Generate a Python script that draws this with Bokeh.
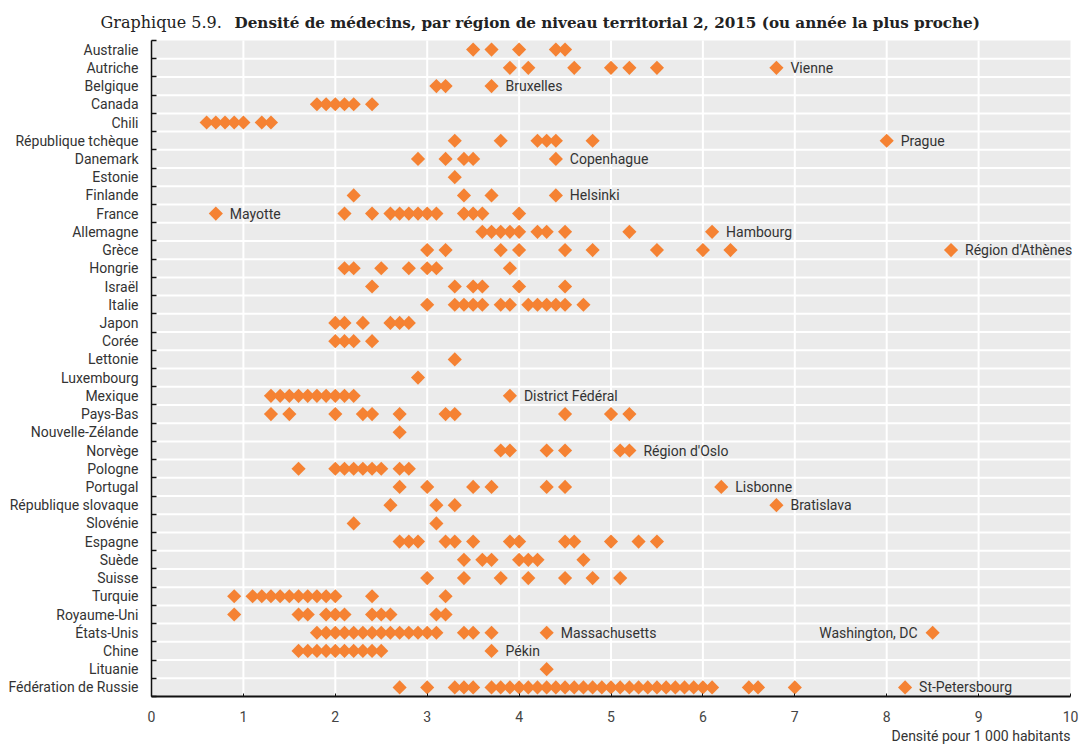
import numpy as np
from bokeh.plotting import figure
from bokeh.models import Range1d, FixedTicker, Label, ColumnDataSource
from bokeh.core.properties import value
from bokeh.embed import file_html
from bokeh.resources import INLINE

countries = [
    "Australie", "Autriche", "Belgique", "Canada", "Chili", "République tchèque",
    "Danemark", "Estonie", "Finlande", "France", "Allemagne", "Grèce", "Hongrie",
    "Israël", "Italie", "Japon", "Corée", "Lettonie", "Luxembourg", "Mexique",
    "Pays-Bas", "Nouvelle-Zélande", "Norvège", "Pologne", "Portugal",
    "République slovaque", "Slovénie", "Espagne", "Suède", "Suisse", "Turquie",
    "Royaume-Uni", "États-Unis", "Chine", "Lituanie", "Fédération de Russie",
]

australie = [3.5, 3.7, 4.0, 4.4, 4.5]
autriche = [3.9, 4.1, 4.6, 5.0, 5.2, 5.5, 6.8]
belgique = [3.1, 3.2, 3.7]
canada = [1.8, 1.9, 2.0, 2.1, 2.2, 2.4]
chili = [0.6, 0.7, 0.8, 0.9, 1.0, 1.2, 1.3]
rep_tcheque = [3.3, 3.8, 4.2, 4.3, 4.4, 4.8, 8.0]
danemark = [2.9, 3.2, 3.4, 3.5, 4.4]
estonie = [3.3]
finlande = [2.2, 3.4, 3.7, 4.4]
france = [0.7, 2.1, 2.4, 2.6, 2.7, 2.8, 2.9, 3.0, 3.1, 3.4, 3.5, 3.6, 4.0]
allemagne = [3.6, 3.7, 3.8, 3.9, 4.0, 4.2, 4.3, 4.5, 5.2, 6.1]
grece = [3.0, 3.2, 3.8, 4.0, 4.5, 4.8, 5.5, 6.0, 6.3, 8.7]
hongrie = [2.1, 2.2, 2.5, 2.8, 3.0, 3.1, 3.9]
israel = [2.4, 3.3, 3.5, 3.6, 4.0, 4.5]
italie = [3.0, 3.3, 3.4, 3.5, 3.6, 3.8, 3.9, 4.1, 4.2, 4.3, 4.4, 4.5, 4.7]
japon = [2.0, 2.1, 2.3, 2.6, 2.7, 2.8]
coree = [2.0, 2.1, 2.2, 2.4]
lettonie = [3.3]
luxembourg = [2.9]
mexique = [1.3, 1.4, 1.5, 1.6, 1.7, 1.8, 1.9, 2.0, 2.1, 2.2, 3.9]
pays_bas = [1.3, 1.5, 2.0, 2.3, 2.4, 2.7, 3.2, 3.3, 4.5, 5.0, 5.2]
nouvelle_zelande = [2.7]
norvege = [3.8, 3.9, 4.3, 4.5, 5.1, 5.2]
pologne = [1.6, 2.0, 2.1, 2.2, 2.3, 2.4, 2.5, 2.7, 2.8]
portugal = [2.7, 3.0, 3.5, 3.7, 4.3, 4.5, 6.2]
rep_slovaque = [2.6, 3.1, 3.3, 6.8]
slovenie = [2.2, 3.1]
espagne = [2.7, 2.8, 2.9, 3.2, 3.3, 3.5, 3.9, 4.0, 4.5, 4.6, 5.0, 5.3, 5.5]
suede = [3.4, 3.6, 3.7, 4.0, 4.1, 4.2, 4.7]
suisse = [3.0, 3.4, 3.8, 4.1, 4.5, 4.8, 5.1]
turquie = [0.9, 1.1, 1.2, 1.3, 1.4, 1.5, 1.6, 1.7, 1.8, 1.9, 2.0, 2.4, 3.2]
royaume_uni = [0.9, 1.6, 1.7, 1.9, 2.0, 2.1, 2.4, 2.5, 2.6, 3.1, 3.2]
etats_unis = [1.8, 1.9, 2.0, 2.1, 2.2, 2.3, 2.4, 2.5, 2.6, 2.7, 2.8, 2.9, 3.0, 3.1,
              3.4, 3.5, 3.7, 4.3, 8.5]
chine = [1.6, 1.7, 1.8, 1.9, 2.0, 2.1, 2.2, 2.3, 2.4, 2.5, 3.7]
lituanie = [4.3]
russie = [2.7, 3.0, 3.3, 3.4, 3.5, 3.7, 3.8, 3.9, 4.0, 4.1, 4.2, 4.3, 4.4, 4.5,
          4.6, 4.7, 4.8, 4.9, 5.0, 5.1, 5.2, 5.3, 5.4, 5.5, 5.6, 5.7, 5.8, 5.9,
          6.0, 6.1, 6.5, 6.6, 7.0, 8.2]

series = [australie, autriche, belgique, canada, chili, rep_tcheque, danemark,
          estonie, finlande, france, allemagne, grece, hongrie, israel, italie,
          japon, coree, lettonie, luxembourg, mexique, pays_bas, nouvelle_zelande,
          norvege, pologne, portugal, rep_slovaque, slovenie, espagne, suede,
          suisse, turquie, royaume_uni, etats_unis, chine, lituanie, russie]

ann_country = ["Autriche", "Belgique", "République tchèque", "Danemark", "Finlande",
               "France", "Allemagne", "Grèce", "Mexique", "Norvège", "Portugal",
               "République slovaque", "États-Unis", "États-Unis", "Chine",
               "Fédération de Russie"]
ann_value = [6.8, 3.7, 8.0, 4.4, 4.4, 0.7, 6.1, 8.7, 3.9, 5.2, 6.2, 6.8, 4.3, 8.5,
             3.7, 8.2]
ann_text = ["Vienne", "Bruxelles", "Prague", "Copenhague", "Helsinki", "Mayotte",
            "Hambourg", "Région d'Athènes", "District Fédéral", "Région d'Oslo",
            "Lisbonne", "Bratislava", "Massachusetts", "Washington, DC", "Pékin",
            "St-Petersbourg"]
ann_side = ["right"] * 13 + ["left", "right", "right"]

x_ticks = list(range(0, 11))
title_lead = "Graphique 5.9."
title_main = ("Densité de médecins, par région de niveau territorial 2, 2015 "
              "(ou année la plus proche)")
x_label = "Densité pour 1 000 habitants"

# ---------------- layout (figure pixels) ----------------
W, H = 1079, 745
X0_PX, X10_PX = 151, 1070          # where x=0 and x=10 fall
TOP_PX, BOT_PX = 40, 696           # top / bottom of the row area
N = len(countries)
unit = (X10_PX - X0_PX) / 10.0
row = (BOT_PX - TOP_PX) / N
x_lo = -X0_PX / unit
x_hi = 10 + (W - X10_PX) / unit
y_hi = N - 0.5 + TOP_PX / row
y_lo = -0.5 - (H - BOT_PX) / row

SANS = "Roboto"
ORANGE = "#F58233"
GREY_BG = "#EBEBEB"

ypos = {c: N - 1 - i for i, c in enumerate(countries)}
xs, ys = [], []
for c, vals in zip(countries, series):
    xs.extend(vals)
    ys.extend([ypos[c]] * len(vals))

p = figure(width=W, height=H, output_backend="svg", toolbar_location=None,
           x_range=Range1d(x_lo, x_hi), y_range=Range1d(y_lo, y_hi),
           min_border_left=0, min_border_right=0, min_border_top=0,
           min_border_bottom=0, background_fill_color="white",
           border_fill_color="white", outline_line_color=None)
p.grid.visible = False

# grey panel and white grid lines
p.quad(left=[x_ticks[0]], right=[x_ticks[-1]], bottom=[-0.5], top=[N - 0.5],
       fill_color=GREY_BG, line_color=None)
vx = x_ticks[1:-1]
p.segment(x0=vx, x1=vx, y0=[-0.5] * len(vx), y1=[N - 0.5] * len(vx),
          line_color="white", line_width=2)
hy = list(np.arange(1, N) - 0.5)
p.segment(x0=[x_ticks[0]] * len(hy), x1=[x_ticks[-1]] * len(hy), y0=hy, y1=hy,
          line_color="white", line_width=2)

# x axis
p.xaxis.fixed_location = -0.5
p.xaxis.bounds = (x_ticks[0], x_ticks[-1])
p.xaxis.ticker = FixedTicker(ticks=x_ticks)
p.xaxis.axis_line_color = "#111111"
p.xaxis.axis_line_width = 2
p.xaxis.major_tick_in = 3
p.xaxis.major_tick_out = 0
p.xaxis.major_tick_line_color = "#111111"
p.xaxis.minor_tick_line_color = None
p.xaxis.major_label_text_font = SANS
p.xaxis.major_label_text_font_size = "14px"
p.xaxis.major_label_text_color = "#444444"
p.xaxis.major_label_standoff = 14

# y axis
p.yaxis.fixed_location = 0
p.yaxis.bounds = (-0.5, N - 0.5)
p.yaxis.ticker = FixedTicker(ticks=[ypos[c] for c in countries],
                             minor_ticks=list(np.arange(N + 1) - 0.5))
p.yaxis.major_label_overrides = {ypos[c]: c for c in countries}
p.yaxis.axis_line_color = "#111111"
p.yaxis.axis_line_width = 1.5
p.yaxis.major_tick_in = 0
p.yaxis.major_tick_out = 0
p.yaxis.minor_tick_in = 5
p.yaxis.minor_tick_out = 0
p.yaxis.minor_tick_line_color = "#111111"
p.yaxis.minor_tick_line_width = 1.5
p.yaxis.major_label_text_font = SANS
p.yaxis.major_label_text_font_size = "14px"
p.yaxis.major_label_text_color = "#333333"
p.yaxis.major_label_standoff = 13

# points
p.scatter(x=xs, y=ys, marker="square", angle=np.pi / 4, size=10,
          fill_color=ORANGE, line_color=None)

# region annotations
for side, off, align in (("right", 14, "left"), ("left", -15, "right")):
    idx = [i for i, s in enumerate(ann_side) if s == side]
    src = ColumnDataSource(dict(x=[ann_value[i] for i in idx],
                                y=[ypos[ann_country[i]] for i in idx],
                                t=[ann_text[i] for i in idx]))
    p.text(x="x", y="y", text="t", source=src, x_offset=off, text_align=align,
           text_baseline="middle", text_font=value(SANS),
           text_font_size="14px", text_color="#333333")

# title (inside the frame, which spans the whole figure)
p.add_layout(Label(x=100, y=H - 22, x_units="screen", y_units="screen",
                   text=title_lead, text_font="DejaVu Serif",
                   text_font_size="16px", text_color="#222222",
                   text_baseline="middle"))
p.add_layout(Label(x=234, y=H - 22, x_units="screen", y_units="screen",
                   text=title_main, text_font="DejaVu Serif",
                   text_font_style="bold", text_font_size="15.2px",
                   text_color="#222222", text_baseline="middle"))
# x axis title
p.add_layout(Label(x=1070, y=H - 735, x_units="screen", y_units="screen",
                   text=x_label, text_font=SANS, text_font_size="14px",
                   text_color="#333333", text_align="right",
                   text_baseline="middle"))

open("out.html", "w").write(file_html(p, INLINE))
